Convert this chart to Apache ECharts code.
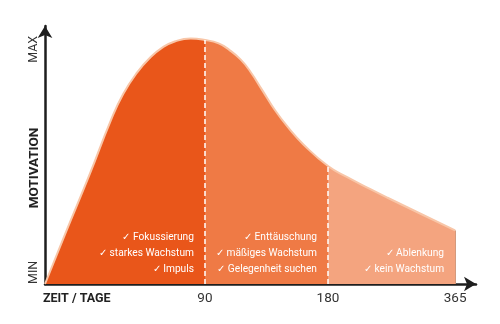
<!DOCTYPE html>
<html>
<head>
<meta charset="utf-8">
<script src="https://cdn.jsdelivr.net/npm/echarts@6/dist/echarts.min.js"></script>
<style>
  html, body { margin: 0; padding: 0; background: #fff; }
  #chart { width: 500px; height: 324px; }
</style>
</head>
<body>
<div id="chart"></div>
<script>
// Motivation over the first year of a new goal
const curveDays = [0, 12, 25, 37, 44, 52, 59, 66, 73, 82, 90,
                   100, 108, 116, 123, 132, 141, 151, 162, 180,
                   208, 241, 266, 314, 365];
const curveMotivation = [0, 21.5, 44.4, 66.5, 77.3, 86.2, 92, 96.2, 98.7, 99.9, 99.3,
                         97.9, 95.2, 91.4, 86.6, 78.8, 70.9, 63.6, 56.8, 48,
                         43.5, 38.7, 35.2, 28.7, 21.8];

// phase boundaries (days) and their tick labels
const phaseDays = [0, 90, 180, 365];
const dayTickLabels = ['90', '180', '365'];
const motivationTicks = [0, 90];
const motivationTickLabels = ['MIN', 'MAX'];

const phaseNotes = [
  ['✓ Fokussierung', '✓ starkes Wachstum', '✓ Impuls'],
  ['✓ Enttäuschung', '✓ mäßiges Wachstum', '✓ Gelegenheit suchen'],
  ['✓ Ablenkung', '✓ kein Wachstum']
];
const phaseColors = ['#E9561A', '#EF7A45', '#F4A47F'];

// The time axis is drawn phase by phase: each phase gets its own width
// (relative to the middle one), and the axis runs a little past the last day.
const phaseScale = [1.3, 1, 1.033];
const axisTail = 0.17;
const phaseStart = [0];
phaseScale.forEach((w, i) => phaseStart.push(phaseStart[i] + w));
function toUnit(day) {
  for (let i = 0; i < phaseScale.length; i++) {
    if (day <= phaseDays[i + 1] || i === phaseScale.length - 1) {
      const t = (day - phaseDays[i]) / (phaseDays[i + 1] - phaseDays[i]);
      return phaseStart[i] + t * phaseScale[i];
    }
  }
}
const axisEnd = phaseStart[phaseStart.length - 1] + axisTail;
const curveEnd = toUnit(phaseDays[phaseDays.length - 1]);

const curveData = curveDays.map((d, i) => [toUnit(d), curveMotivation[i]]);
const tickUnits = phaseDays.slice(1).map(toUnit);

// hard colour steps at the phase boundaries
const stops = [];
phaseColors.forEach((c, i) => {
  stops.push({ offset: toUnit(phaseDays[i]) / curveEnd, color: c });
  stops.push({ offset: toUnit(phaseDays[i + 1]) / curveEnd, color: c });
});

function valueAt(day) {
  return curveMotivation[curveDays.indexOf(day)];
}

const axisColor = '#1e1e1e';
const dashed = { color: '#fff', width: 1.5, type: [5, 3] };
const chart = echarts.init(document.getElementById('chart'), null, { renderer: 'canvas' });

chart.setOption({
  animation: false,
  backgroundColor: '#fff',
  grid: { left: 45, right: 24, top: 26, bottom: 40 },
  xAxis: {
    type: 'value',
    min: 0,
    max: axisEnd,
    name: 'ZEIT / TAGE',
    nameLocation: 'start',
    nameGap: 2,
    nameMoveOverlap: false,
    nameTextStyle: {
      align: 'left', verticalAlign: 'top', padding: [8, 0, 0, 0],
      fontFamily: 'Roboto', fontWeight: 'bold', fontSize: 12.5, color: '#222'
    },
    axisLine: {
      lineStyle: { color: axisColor, width: 2.5 },
      symbol: ['none', 'arrow'], symbolSize: [11, 12]
    },
    axisTick: { show: false },
    splitLine: { show: false },
    axisLabel: {
      customValues: tickUnits,
      formatter: (v) => {
        const i = tickUnits.findIndex(u => Math.abs(u - v) < 1e-6);
        return i >= 0 ? dayTickLabels[i] : '';
      },
      margin: 8,
      fontFamily: 'Roboto', fontSize: 13.5, color: '#333'
    }
  },
  yAxis: {
    type: 'value',
    min: 0,
    max: 105,
    name: 'MOTIVATION',
    nameLocation: 'middle',
    nameRotate: 90,
    nameGap: 3,
    nameMoveOverlap: false,
    nameTextStyle: {
      fontFamily: 'Roboto', fontWeight: 'bold', fontSize: 13.5, color: '#222',
      padding: [0, 26, 0, 0]
    },
    axisLine: {
      show: true,
      lineStyle: { color: axisColor, width: 2.5 },
      symbol: ['none', 'arrow'], symbolSize: [11, 12]
    },
    axisTick: { show: false },
    splitLine: { show: false },
    axisLabel: {
      customValues: motivationTicks,
      formatter: (v) => motivationTickLabels[motivationTicks.indexOf(v)] || '',
      rotate: 90,
      align: 'left',
      verticalAlign: 'middle',
      margin: 11,
      fontFamily: 'Roboto', fontSize: 12.5, color: '#333'
    }
  },
  series: [
    {
      type: 'line',
      data: curveData,
      smooth: 0.5,
      symbol: 'none',
      lineStyle: { color: '#F8C6A8', width: 2 },
      areaStyle: {
        opacity: 1,
        color: new echarts.graphic.LinearGradient(0, 0, 1, 0, stops)
      },
      markLine: {
        silent: true,
        symbol: 'none',
        label: { show: false },
        data: [
          [{ coord: [toUnit(90), 0], lineStyle: dashed },
           { coord: [toUnit(90), valueAt(90)] }],
          [{ coord: [toUnit(180), 0], lineStyle: dashed },
           { coord: [toUnit(180), valueAt(180)] }],
          [{ coord: [curveEnd, 0], lineStyle: { color: '#D39A7D', width: 1, type: 'solid' } },
           { coord: [curveEnd, valueAt(365)] }]
        ]
      },
      z: 2
    },
    {
      // notes listed at the end of each phase
      type: 'custom',
      data: phaseNotes.map((n, i) => [toUnit(phaseDays[i + 1]), 0, i]),
      clip: false,
      z: 5,
      renderItem: (params, api) => {
        const p = api.coord([api.value(0), 0]);
        const notes = phaseNotes[api.value(2)];
        return {
          type: 'group',
          children: notes.map((t, j) => ({
            type: 'text',
            style: {
              text: t,
              x: p[0] - 11,
              y: p[1] - 15 - (notes.length - 1 - j) * 16,
              align: 'right',
              verticalAlign: 'middle',
              fill: '#fff',
              font: '10.2px Roboto'
            }
          }))
        };
      }
    }
  ]
});
</script>
</body>
</html>
